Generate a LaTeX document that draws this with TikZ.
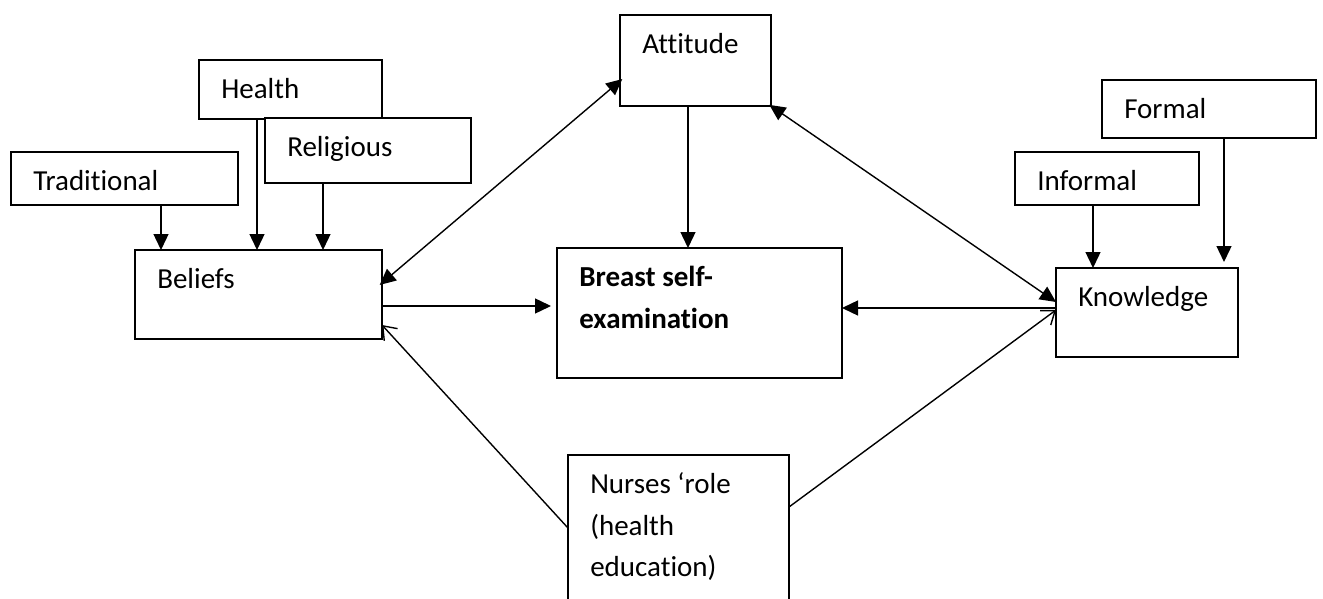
\documentclass[tikz,border=0pt]{standalone}
\usepackage{fontspec}
\setmainfont[Ligatures=NoCommon]{Carlito}
\usetikzlibrary{arrows.meta}

\begin{document}
\begin{tikzpicture}[x=0.5pt,y=-0.5pt,line width=0.75pt]

                \tikzset{box/.style = {shape=rectangle,draw,fill=white,inner sep=0pt,outer sep=0pt,anchor=north west}}
                \tikzset{lbl/.style = {anchor=north west,inner sep=0pt,xshift=10.75pt,align=left,
                        font=\fontsize{14.5}{20.75}\selectfont}}
                \tikzset{arr/.style = {-{Triangle[length=8pt,width=7.5pt]},line width=0.7pt}}
                \tikzset{biarr/.style = {{Triangle[length=8pt,width=7.5pt]}-{Triangle[length=8pt,width=7.5pt]},line width=0.7pt}}
                \tikzset{openarr/.style = {-{Straight Barb[length=6pt,width=9pt]},line width=0.7pt}}
                \newcommand{\tstrut}{\rule{0pt}{19pt}}
                \clip (0,0) rectangle (1323,599);
                \fill[white] (0,0) rectangle (1323,599);
                \node[box,minimum width=75.5pt,minimum height=45.5pt,label={[lbl]north west:\tstrut Attitude}] (attitude) at (620,15) {};
                \node[box,minimum width=91.5pt,minimum height=29.5pt,label={[lbl]north west:\tstrut Health}] (health) at (199,60) {};
                \node[box,minimum width=103pt,minimum height=32.5pt,label={[lbl]north west:\tstrut Religious}] (religious) at (265,118) {};
                \node[box,minimum width=113.5pt,minimum height=26.5pt,label={[lbl]north west:\tstrut Traditional}] (traditional) at (11,152) {};
                \node[box,minimum width=123.5pt,minimum height=44.5pt,label={[lbl]north west:\tstrut Beliefs}] (beliefs) at (135,250) {};
                \node[box,minimum width=142.5pt,minimum height=65pt,label={[lbl]north west:\tstrut\textbf{Breast self-}\\\textbf{examination}}] (bse) at (557,248) {};
                \node[box,minimum width=107pt,minimum height=29pt,label={[lbl]north west:\tstrut Formal}] (formal) at (1102,80) {};
                \node[box,minimum width=92pt,minimum height=26.5pt,label={[lbl]north west:\tstrut Informal}] (informal) at (1015,152) {};
                \node[box,minimum width=91pt,minimum height=44.5pt,label={[lbl]north west:\tstrut Knowledge}] (knowledge) at (1056,268) {};
                \node[box,minimum width=110.5pt,minimum height=90pt,label={[lbl]north west:\tstrut Nurses ‘role\\(health\\education)}] (nurses) at (568,455) {};

                \draw[arr] ([xshift=75pt]traditional.south west) -- ([xshift=13pt]beliefs.north west);
                \draw[arr] ([xshift=29pt]health.south west) -- ([xshift=61pt]beliefs.north west);
                \draw[arr] ([xshift=29pt]religious.south west) -- ([xshift=94pt]beliefs.north west);
                \draw[arr] ([xshift=34pt]attitude.south west) -- ([xshift=65.5pt]bse.north west);
                \draw[arr] ([xshift=39pt]informal.south west) -- ([xshift=18.5pt]knowledge.north west);
                \draw[arr,shorten >=3pt] ([xshift=61pt]formal.south west) -- ([xshift=84pt]knowledge.north west);
                \draw[biarr,shorten <=-1.5pt,shorten >=-1.5pt] ([yshift=-16.5pt]beliefs.north east) -- ([yshift=-33pt]attitude.north west);
                \draw[arr,shorten >=3pt] ([yshift=-28pt]beliefs.north east) -- ([yshift=-29pt]bse.north west);
                \draw[arr] ([yshift=-20pt]knowledge.north west) -- ([yshift=-30pt]bse.north east);
                \draw[biarr,shorten <=-1pt] (attitude.south east) -- ([yshift=-17pt]knowledge.north west);
                \draw[openarr] ([yshift=-36.5pt]nurses.north west) -- ([yshift=-37.5pt]beliefs.north east);
                \draw[openarr] ([yshift=-26pt]nurses.north east) -- ([yshift=-21pt]knowledge.north west);
            \end{tikzpicture}
\end{document}
